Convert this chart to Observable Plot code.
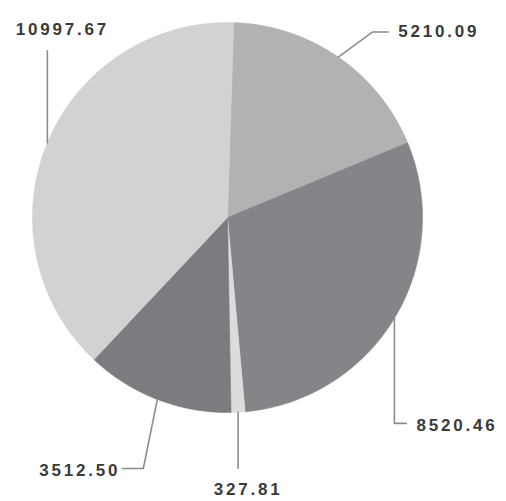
<!DOCTYPE html>
<html>
<head>
<meta charset="utf-8">
<script src="https://cdn.jsdelivr.net/npm/d3@7"></script>
<script src="https://cdn.jsdelivr.net/npm/@observablehq/plot@0.6"></script>
<style>
  html, body { margin: 0; padding: 0; background: #fff; }
  #chart svg { display: block; }
</style>
</head>
<body>
<div id="chart"></div>
<script>
// ---- data ----
const values = [5210.09, 8520.46, 327.81, 3512.50, 10997.67];
const labels = ["5210.09", "8520.46", "327.81", "3512.50", "10997.67"];
const colors = ["#b2b2b4", "#858589", "#dcdcdc", "#7c7c80", "#d2d2d5"];

// ---- layout (leader elbows, in pixels relative to slice edge midpoint) ----
const leaderElbow = [[34, -25], [0, 105], [0, 56], [-14, 69], [0, -92]];
const leaderEnd   = [[50, -25], [12, 105], [0, 56], [-35, 69], [0, -92]];
const textAnchor  = ["start", "start", "middle", "end", "middle"];
const textOffset  = [[10, 0], [10, 2], [10, 21], [-2, 2], [15, -21]];

const W = 506, H = 501;
const mL = 32, mR = 84, mT = 22, mB = 89;
const R = (W - mL - mR) / 2; // pixels per unit
const rot = 1.8 * Math.PI / 180;

const pie = d3.pie().sort(null).startAngle(rot).endAngle(rot + 2 * Math.PI)(values);

const polys = [];
pie.forEach((p, i) => {
  polys.push({k: i, x: 0, y: 0, c: colors[i]});
  const n = Math.max(2, Math.ceil((p.endAngle - p.startAngle) / (Math.PI / 360)));
  for (let j = 0; j <= n; j++) {
    const a = p.startAngle + (p.endAngle - p.startAngle) * j / n;
    polys.push({k: i, x: Math.sin(a), y: Math.cos(a), c: colors[i]});
  }
  polys.push({k: i, x: 0, y: 0, c: colors[i]});
});

const leaders = [];
const texts = [];
pie.forEach((p, i) => {
  const a = (p.startAngle + p.endAngle) / 2;
  const x0 = Math.sin(a), y0 = Math.cos(a);
  const e = leaderElbow[i], f = leaderEnd[i];
  leaders.push({k: i, x: x0, y: y0});
  leaders.push({k: i, x: x0 + e[0] / R, y: y0 - e[1] / R});
  leaders.push({k: i, x: x0 + f[0] / R, y: y0 - f[1] / R});
  texts.push({k: i, x: x0 + f[0] / R, y: y0 - f[1] / R, label: labels[i],
              anchor: textAnchor[i], dx: textOffset[i][0], dy: textOffset[i][1]});
});

const textMarks = texts.map(t => Plot.text([t], {
  x: "x", y: "y", text: "label", textAnchor: t.anchor, dx: t.dx, dy: t.dy,
  fill: "#3a3a3a", fontSize: 17, fontWeight: 600,
  fontFamily: "Liberation Sans, Arial, sans-serif"
}));

const chart = Plot.plot({
  width: W, height: H,
  marginLeft: mL, marginRight: mR, marginTop: mT, marginBottom: mB,
  x: {domain: [-1, 1], axis: null},
  y: {domain: [-1, 1], axis: null},
  color: {type: "identity"},
  style: {background: "#fff"},
  marks: [
    Plot.line(polys, {x: "x", y: "y", z: "k", fill: "c", stroke: "c", strokeWidth: 0.6, curve: "linear-closed"}),
    Plot.line(leaders, {x: "x", y: "y", z: "k", stroke: "#8c8c8c", strokeWidth: 1.6}),
    ...textMarks
  ]
});

chart.querySelectorAll("text").forEach(t => t.style.letterSpacing = "2.8px");
document.getElementById("chart").appendChild(chart);
</script>
</body>
</html>
